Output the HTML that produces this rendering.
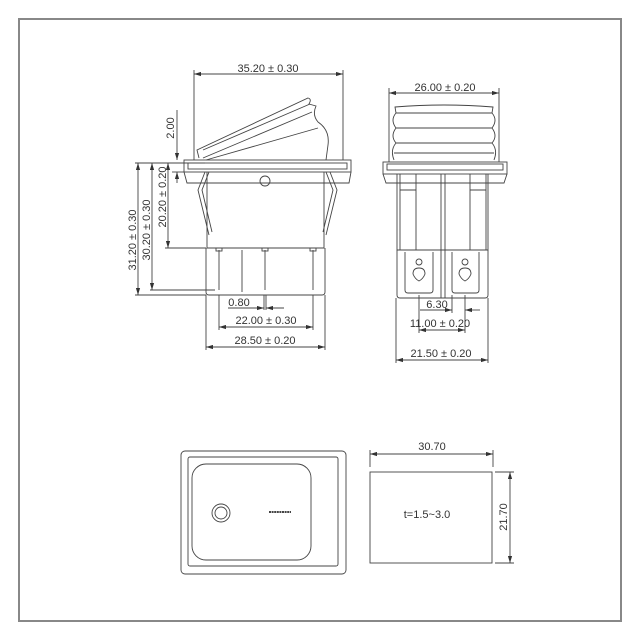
<!DOCTYPE html>
<html><head><style>body{margin:0;background:#fff}svg{display:block}text{font-family:"Liberation Sans",sans-serif;font-size:11px;fill:#333}</style></head><body>
<svg width="640" height="640" viewBox="0 0 640 640" xmlns="http://www.w3.org/2000/svg">
<defs><marker id="a" viewBox="0 0 10 6" refX="10" refY="3" markerWidth="8" markerHeight="5" orient="auto-start-reverse"><path d="M0,0L10,3L0,6z" fill="#333"/></marker></defs>
<rect x="19" y="19" width="602" height="602" fill="none" stroke="#888" stroke-width="2"/>
<g fill="none" stroke="#444" stroke-width="0.9">
<!-- LEFT VIEW -->
<line x1="194" y1="70" x2="194" y2="160"/><line x1="343" y1="70" x2="343" y2="160"/>
<line x1="194" y1="74" x2="343" y2="74" marker-start="url(#a)" marker-end="url(#a)"/>
<path d="M199,158 L197,150 L308,98 Q312,99 309,104 L316,106 Q312,115 318,122 Q330,130 328,145 L326,160"/>
<path d="M203,158 L312,112"/><path d="M203,150 L310,104"/><path d="M206,160 L318,128"/>
<rect x="184" y="160" width="167" height="12"/><rect x="188" y="163" width="159" height="6"/>
<path d="M184,172 L187,183 L349,183 L351,172"/>
<path d="M207,172 V248 H324 V172"/>
<path d="M206,248 V292 Q206,295 209,295 H322 Q325,295 325,292 V248"/>
<circle cx="265" cy="181" r="5"/>
<path d="M205,172 L198,190 L209,235"/><path d="M209,172 L202,190 L212,232"/>
<path d="M330,172 L337,190 L326,235"/><path d="M326,172 L333,190 L323,232"/>
<path d="M219,250 V290 M242,250 V292 M265,250 V290 M313,250 V290"/>
<rect x="216" y="248" width="6" height="3"/><rect x="262" y="248" width="6" height="3"/><rect x="310" y="248" width="6" height="3"/>
<line x1="135" y1="163" x2="205" y2="163"/><line x1="135" y1="295" x2="206" y2="295"/><line x1="150" y1="290" x2="215" y2="290"/><line x1="165" y1="248" x2="206" y2="248"/>
<line x1="138" y1="163" x2="138" y2="295" marker-start="url(#a)" marker-end="url(#a)"/>
<line x1="152" y1="163" x2="152" y2="290" marker-start="url(#a)" marker-end="url(#a)"/>
<line x1="168" y1="163" x2="168" y2="248" marker-start="url(#a)" marker-end="url(#a)"/>
<line x1="177" y1="110" x2="177" y2="160" marker-end="url(#a)"/><line x1="177" y1="183" x2="177" y2="172" marker-end="url(#a)"/>
<line x1="172" y1="172" x2="184" y2="172"/>
<line x1="219" y1="295" x2="219" y2="330"/><line x1="313" y1="295" x2="313" y2="330"/>
<line x1="206" y1="295" x2="206" y2="350"/><line x1="325" y1="295" x2="325" y2="350"/>
<line x1="264" y1="295" x2="264" y2="310"/><line x1="266" y1="295" x2="266" y2="310"/>
<line x1="228" y1="308" x2="264" y2="308" marker-end="url(#a)"/><line x1="284" y1="308" x2="266" y2="308" marker-end="url(#a)"/>
<line x1="219" y1="327" x2="313" y2="327" marker-start="url(#a)" marker-end="url(#a)"/>
<line x1="206" y1="347" x2="325" y2="347" marker-start="url(#a)" marker-end="url(#a)"/>
<!-- RIGHT VIEW -->
<line x1="389" y1="88" x2="389" y2="162"/><line x1="499" y1="88" x2="499" y2="162"/>
<line x1="389" y1="93" x2="499" y2="93" marker-start="url(#a)" marker-end="url(#a)"/>
<path d="M395,107 Q444,103 493,107 L492,113 H396 Z"/>
<path d="M396,113 Q390,120 396,128 Q390,136 396,143 Q390,150 394,160 M492,113 Q498,120 492,128 Q498,136 492,143 Q498,150 494,160"/>
<path d="M396,128 H492 M396,143 H492 M394,153 H494"/>
<rect x="383" y="162" width="124" height="12"/><rect x="387" y="164" width="116" height="6"/>
<path d="M383,174 L386,183 L504,183 L507,174"/>
<path d="M397,174 V250 H488 V174"/>
<path d="M397,250 V295 Q397,298 400,298 H485 Q488,298 488,295 V250"/>
<path d="M400,174 V250 M416,174 V250 M441,174 V298 M445,174 V298 M470,174 V250 M486,174 V250 M400,190 H416 M470,190 H486"/>
<path d="M405,252 V290 Q405,293 408,293 H430 Q433,293 433,290 V252"/>
<path d="M452,252 V290 Q452,293 455,293 H476 Q479,293 479,290 V252"/>
<circle cx="419" cy="262" r="3"/><path d="M419,268 Q425,268 425,274 Q423,279 419,281 Q415,279 413,274 Q413,268 419,268Z"/>
<circle cx="465" cy="262" r="3"/><path d="M465,268 Q471,268 471,274 Q469,279 465,281 Q461,279 459,274 Q459,268 465,268Z"/>
<line x1="419" y1="295" x2="419" y2="333"/><line x1="465" y1="295" x2="465" y2="333"/><line x1="452" y1="295" x2="452" y2="313"/><line x1="396" y1="298" x2="396" y2="363"/><line x1="488" y1="298" x2="488" y2="363"/>
<line x1="420" y1="310" x2="452" y2="310" marker-end="url(#a)"/><line x1="480" y1="310" x2="465" y2="310" marker-end="url(#a)"/>
<line x1="419" y1="330" x2="465" y2="330" marker-start="url(#a)" marker-end="url(#a)"/>
<line x1="396" y1="360" x2="488" y2="360" marker-start="url(#a)" marker-end="url(#a)"/>
<!-- BOTTOM -->
<rect x="181" y="451" width="165" height="123" rx="4"/>
<rect x="188" y="457" width="150" height="109" rx="2"/>
<rect x="192" y="464" width="119" height="96" rx="14"/>
<circle cx="221" cy="513" r="9"/><circle cx="221" cy="513" r="6"/>
<line x1="269" y1="512" x2="291" y2="512" stroke-width="2" stroke-dasharray="2,0.6"/>
<rect x="370" y="472" width="122" height="91"/>
<line x1="370" y1="450" x2="370" y2="467"/><line x1="493" y1="450" x2="493" y2="467"/>
<line x1="370" y1="454" x2="493" y2="454" marker-start="url(#a)" marker-end="url(#a)"/>
<line x1="495" y1="472" x2="514" y2="472"/><line x1="495" y1="563" x2="514" y2="563"/>
<line x1="510" y1="472" x2="510" y2="563" marker-start="url(#a)" marker-end="url(#a)"/>
</g>
<text x="268" y="72" text-anchor="middle">35.20 ± 0.30</text>
<text transform="translate(174,128) rotate(-90)" text-anchor="middle">2.00</text>
<text transform="translate(136,240) rotate(-90)" text-anchor="middle">31.20 ± 0.30</text>
<text transform="translate(150,230) rotate(-90)" text-anchor="middle">30.20 ± 0.30</text>
<text transform="translate(166,197) rotate(-90)" text-anchor="middle">20.20 ± 0.20</text>
<text x="239" y="306" text-anchor="middle">0.80</text>
<text x="266" y="324" text-anchor="middle">22.00 ± 0.30</text>
<text x="265" y="344" text-anchor="middle">28.50 ± 0.20</text>
<text x="445" y="91" text-anchor="middle">26.00 ± 0.20</text>
<text x="437" y="308" text-anchor="middle">6.30</text>
<text x="440" y="327" text-anchor="middle">11.00 ± 0.20</text>
<text x="441" y="357" text-anchor="middle">21.50 ± 0.20</text>
<text x="432" y="450" text-anchor="middle">30.70</text>
<text x="427" y="518" text-anchor="middle">t=1.5~3.0</text>
<text transform="translate(507,517) rotate(-90)" text-anchor="middle">21.70</text>
</svg>
</body></html>
